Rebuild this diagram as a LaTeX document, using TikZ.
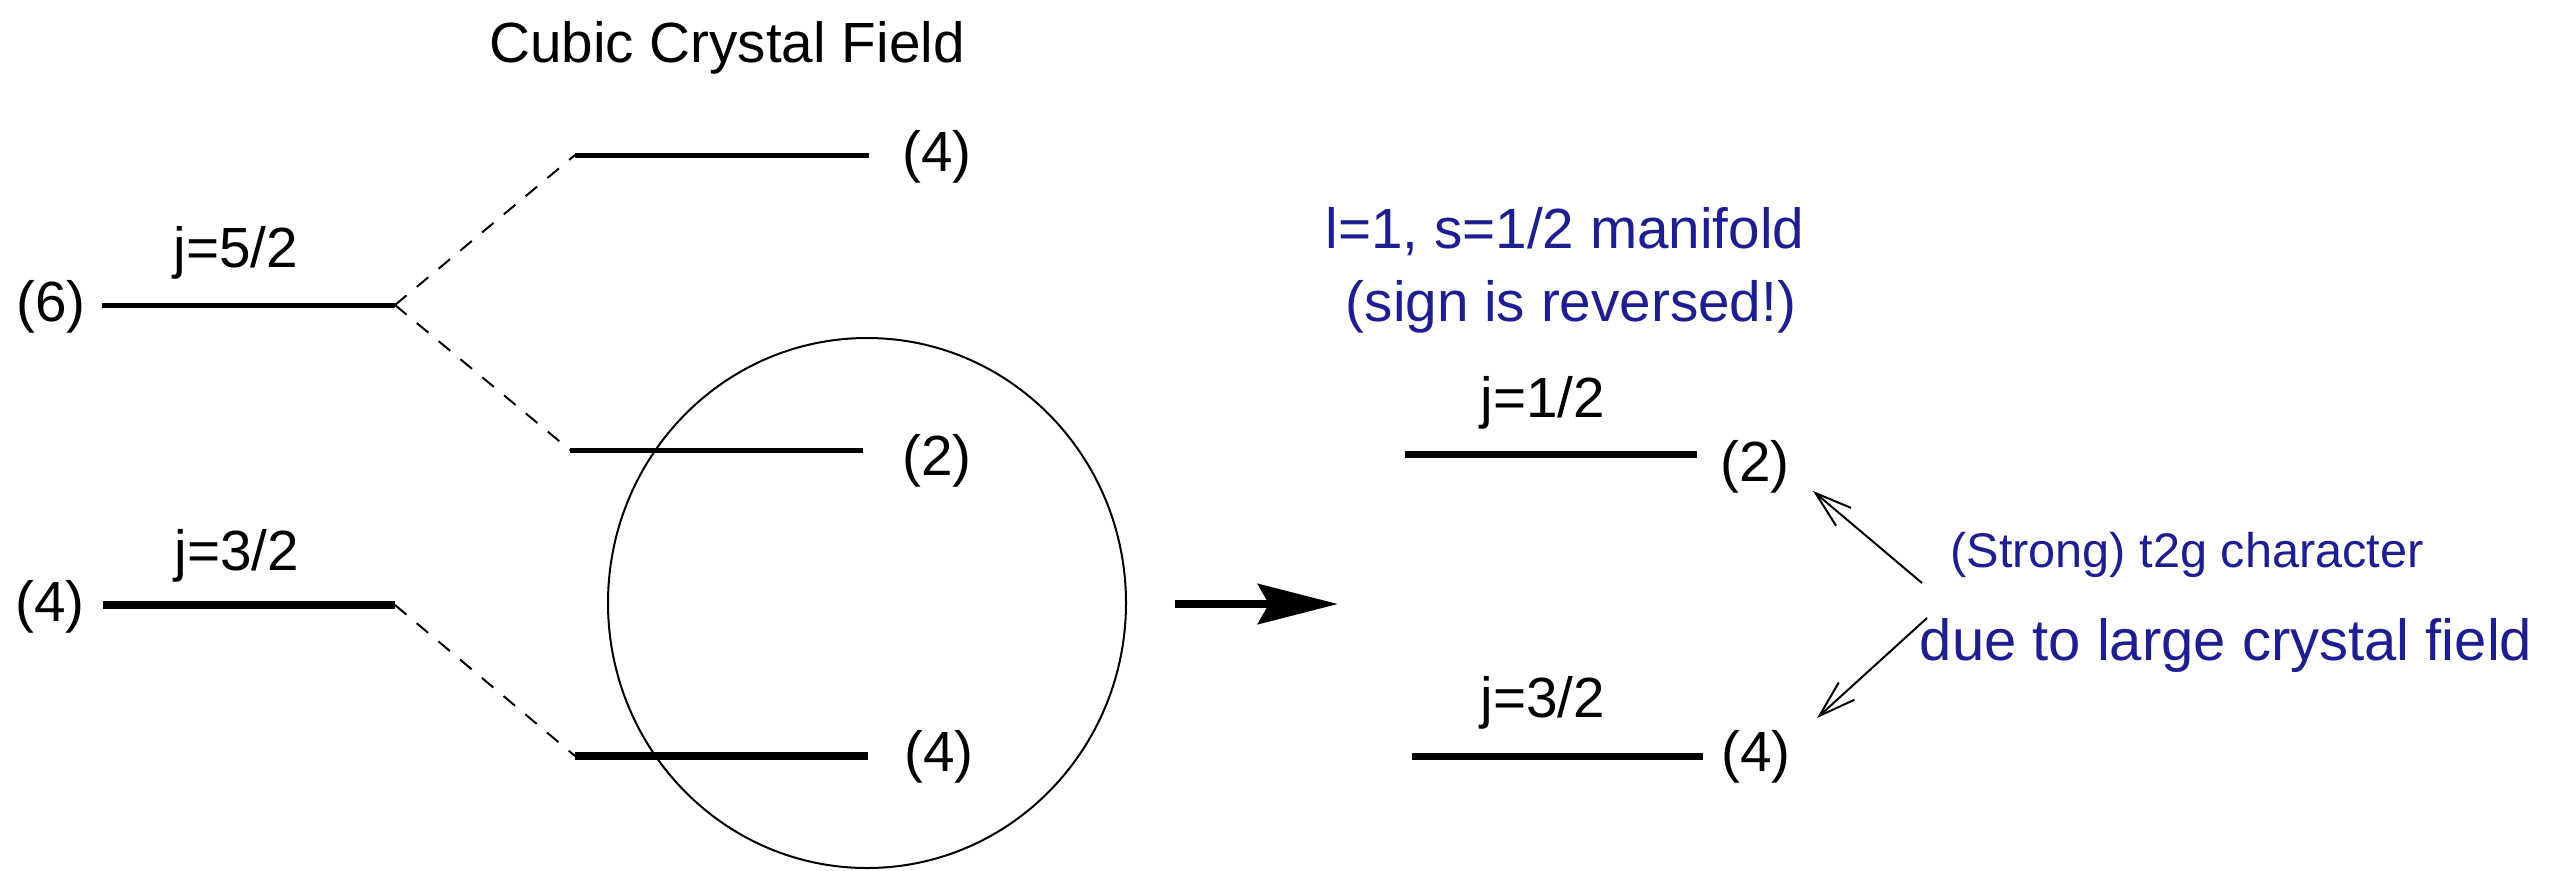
\documentclass[tikz,border=0pt]{standalone}
\usepackage{fontspec}
\setmainfont{Liberation Sans}
\usetikzlibrary{arrows.meta,shapes.geometric}
\definecolor{labelblue}{RGB}{30,30,145}
\begin{document}
\begin{tikzpicture}[x=0.3pt,y=-0.3pt,
  lvl/.style={line width=1.5pt},
  lvlmid/.style={line width=2.1pt},
  lvlthick/.style={line width=2.6pt},
  split/.style={dash pattern=on 4.5pt off 4pt, line width=0.6pt},
  lbl/.style={font=\fontsize{17}{20}\selectfont, inner sep=0pt, anchor=base},
  bluelbl/.style={lbl, text=labelblue},
  smallblue/.style={bluelbl, font=\fontsize{14.6}{17}\selectfont},
  thinarrow/.style={line width=0.6pt, -{Straight Barb[length=11pt,width=7pt,line width=0.6pt]}},
  bigarrow/.style={line width=2.4pt, -{Stealth[length=24pt,width=12pt,inset=3.3pt]}}]
\useasboundingbox (0,0) rectangle (2558,870);

% title
\node[lbl] (title) at (727,62) {Cubic Crystal Field};

% left: free-ion levels
\coordinate (a1) at (102,305); \coordinate (a2) at (395,305);
\coordinate (b1) at (103,605); \coordinate (b2) at (395,605);
\draw[lvl] (a1) -- (a2);
\draw[lvlthick] (b1) -- (b2);
\node[lbl] (deg6) at (51,321) {(6)};
\node[lbl] (j52) at (236,267) {j=5/2};
\node[lbl] (deg4l) at (50,621) {(4)};
\node[lbl] (j32l) at (237,570) {j=3/2};

% cubic crystal field levels
\coordinate (c1) at (575,155); \coordinate (c2) at (869,155);
\coordinate (d1) at (570,450); \coordinate (d2) at (863,450);
\coordinate (e1) at (575,756); \coordinate (e2) at (868,756);
\draw[lvl] (c1) -- (c2);
\draw[lvl] (d1) -- (d2);
\draw[lvlthick] (e1) -- (e2);
\node[lbl] (deg4t) at (937,171) {(4)};
\node[lbl] (deg2m) at (937,475) {(2)};
\node[lbl] (deg4b) at (939,771) {(4)};

% splitting lines
\draw[split] (a2) -- (c1);
\draw[split] (a2) -- (d1);
\draw[split] (b2) -- (e1);

% circle
\node[draw, ellipse, line width=0.6pt, minimum width=155.4pt, minimum height=159pt, inner sep=0pt] (circ) at (867,603) {};

% big arrow
\coordinate (arrS) at (1175,604); \coordinate (arrE) at (1338,604);
\draw[bigarrow] (arrS) -- (arrE);

% right: l=1, s=1/2 manifold
\node[bluelbl] (man1) at (1565,248) {l=1, s=1/2 manifold};
\node[bluelbl] (man2) at (1571,321) {(sign is reversed!)};

\coordinate (f1) at (1405,454); \coordinate (f2) at (1697,454);
\coordinate (g1) at (1412,756); \coordinate (g2) at (1703,756);
\draw[lvlmid] (f1) -- (f2);
\draw[lvlmid] (g1) -- (g2);
\node[lbl] (j12) at (1543,417) {j=1/2};
\node[lbl] (j32r) at (1543,717) {j=3/2};
\node[lbl] (deg2r) at (1755,481) {(2)};
\node[lbl] (deg4r) at (1756,771) {(4)};

% annotations
\node[smallblue] (strong) at (2187,567) {(Strong) t2g character};
\node[bluelbl, font=\fontsize{17.4}{20}\selectfont] (due) at (2226,660) {due to large crystal field};
\coordinate (p1) at (1922,583); \coordinate (p2) at (1813,491);
\coordinate (q1) at (1927,618); \coordinate (q2) at (1817,718);
\draw[thinarrow] (p1) -- (p2);
\draw[thinarrow] (q1) -- (q2);
\end{tikzpicture}
\end{document}
